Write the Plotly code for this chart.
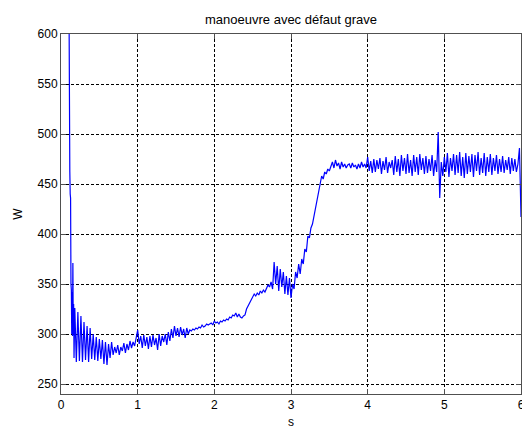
import numpy as np
import plotly.graph_objects as go

# Initial transient right after the manoeuvre starts (s, W)
t_start = [0.100, 0.105, 0.110, 0.115, 0.120, 0.125, 0.130, 0.135,
           0.140, 0.145, 0.150, 0.155, 0.160, 0.165, 0.170]
w_start = [700, 478, 470, 462, 440, 436, 350, 344,
           300, 342, 298, 371, 300, 330, 276]

# Sampled power from 0.18 s to 6.00 s, every 0.02 s
w_main = [
    326, 272, 322, 273, 318, 272, 312, 274, 308,
    272, 306, 275, 300, 274, 297, 273, 295, 275, 294,
    270, 292, 269, 290, 276, 292, 279, 287, 281, 289,
    279, 287, 283, 291, 281, 290, 284, 293, 286, 292,
    288, 297, 304, 290, 298, 286, 299, 288, 297, 285,
    298, 287, 299, 289, 296, 284, 300, 288, 298, 292,
    300, 289, 302, 293, 305, 296, 308, 298, 306, 297,
    307, 299, 305, 296, 306, 300, 304, 303, 305, 304,
    306, 305, 307, 306, 309, 307, 308, 310, 309, 310,
    311, 309, 313, 311, 312, 310, 313, 312, 314, 313,
    315, 314, 317, 316, 319, 318, 321, 317, 320, 317,
    316, 318, 319, 325, 328, 331, 333, 336, 340, 338,
    341, 339, 343, 341, 344, 342, 346, 349, 347, 352,
    345, 372, 350, 368, 343, 365, 347, 362, 340, 358,
    339, 356, 336, 350, 345, 362, 356, 370, 360, 375,
    370, 385, 382, 398, 396, 406, 410, 418, 426, 432,
    440, 449, 458, 455, 462, 460, 465, 463, 468, 472,
    466, 474, 468, 471, 465, 472, 467, 470, 466, 469,
    470, 466, 471, 467, 469, 465, 470, 466, 472, 467,
    470, 466, 477, 463, 473, 461, 475, 462, 474, 465,
    476, 460, 473, 464, 477, 461, 472, 466, 474, 459,
    478, 462, 475, 458, 479, 463, 476, 460, 480, 461,
    474, 458, 479, 462, 477, 459, 480, 464, 476, 460,
    478, 461, 475, 463, 479, 458, 474, 462, 502, 436,
    472, 458, 477, 462, 481, 457, 476, 463, 480, 459,
    479, 461, 482, 458, 477, 456, 481, 460, 478, 462,
    480, 457, 479, 463, 482, 459, 476, 461, 481, 458,
    477, 462, 480, 459, 476, 463, 479, 460, 475, 462,
    478, 461, 474, 464, 477, 460, 476, 463, 475, 462,
    470, 486, 417,
]
t_main = np.round(0.18 + 0.02 * np.arange(len(w_main)), 2)

t = list(t_start) + list(t_main)
w = list(w_start) + list(w_main)

x_ticks = [0, 1, 2, 3, 4, 5, 6]
y_ticks = [250, 300, 350, 400, 450, 500, 550, 600]

fig = go.Figure()
fig.add_trace(go.Scatter(x=t, y=w, mode="lines",
                         line=dict(color="#0000ff", width=1.2),
                         showlegend=False, hoverinfo="skip"))

font = dict(family="Liberation Sans, Arial, sans-serif", size=12, color="black")
axis_common = dict(
    showline=True, linecolor="#505050", linewidth=1, mirror="allticks",
    ticks="inside", ticklen=5, tickcolor="#505050",
    showgrid=True, gridcolor="black", gridwidth=1, griddash="3px,2px",
    zeroline=False, tickfont=font, ticklabeloverflow="allow",
    automargin=False,
)
fig.update_xaxes(range=[0, 6], tickvals=x_ticks,
                 title=dict(text="s", font=font, standoff=6),
                 **axis_common)
fig.update_yaxes(range=[240, 600], tickvals=y_ticks,
                 title=dict(text="W", font=font, standoff=12),
                 **axis_common)

fig.update_layout(
    width=522, height=429,
    margin=dict(l=61, r=1, t=34, b=35),
    paper_bgcolor="white", plot_bgcolor="white",
    title=dict(text="manoeuvre avec défaut grave", font=dict(font, size=13),
               x=0.5, xanchor="center", xref="paper",
               y=1 - 19 / 429, yanchor="middle", yref="container"),
)

fig.write_html("out.html")
